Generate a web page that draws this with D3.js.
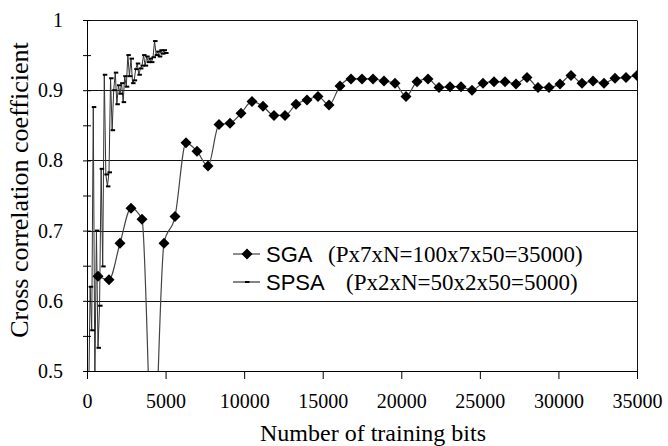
<!DOCTYPE html>
<html>
<head>
<meta charset="utf-8">
<script src="https://cdn.jsdelivr.net/npm/d3@7"></script>
<style>
  body { margin: 0; background: #fff; }
  text { font-family: "Liberation Serif", "Times New Roman", serif; fill: #000; }
</style>
</head>
<body>
<svg id="chart" width="668" height="446"></svg>
<script>
// SGA: one point every 700 training bits
const sgaBits = [700, 1400, 2100, 2800, 3500, 4200, 4900, 5600, 6300, 7000,
    7700, 8400, 9100, 9800, 10500, 11200, 11900, 12600, 13300, 14000,
    14700, 15400, 16100, 16800, 17500, 18200, 18900, 19600, 20300, 21000,
    21700, 22400, 23100, 23800, 24500, 25200, 25900, 26600, 27300, 28000,
    28700, 29400, 30100, 30800, 31500, 32200, 32900, 33600, 34300, 35000];
const sgaValues = [0.635, 0.630, 0.682, 0.732, 0.716, 0.36, 0.682, 0.720, 0.825, 0.813,
    0.792, 0.851, 0.853, 0.867, 0.884, 0.877, 0.864, 0.864, 0.880, 0.886,
    0.891, 0.879, 0.906, 0.916, 0.916, 0.916, 0.913, 0.910, 0.891, 0.912,
    0.916, 0.904, 0.905, 0.905, 0.900, 0.910, 0.912, 0.912, 0.909, 0.918,
    0.904, 0.904, 0.909, 0.921, 0.910, 0.913, 0.910, 0.917, 0.918, 0.921];

// SPSA: one point every 100 training bits
const spsaBits = [100, 200, 300, 400, 500, 600, 700, 800, 900, 1000,
    1100, 1200, 1300, 1400, 1500, 1600, 1700, 1800, 1900, 2000,
    2100, 2200, 2300, 2400, 2500, 2600, 2700, 2800, 2900, 3000,
    3100, 3200, 3300, 3400, 3500, 3600, 3700, 3800, 3900, 4000,
    4100, 4200, 4300, 4400, 4500, 4600, 4700, 4800, 4900, 5000];
const spsaValues = [0.45, 0.62, 0.558, 0.876, 0.48, 0.70, 0.533, 0.593, 0.788, 0.649,
    0.922, 0.78, 0.763, 0.783, 0.917, 0.843, 0.90, 0.925, 0.88, 0.907,
    0.895, 0.91, 0.883, 0.92, 0.905, 0.95, 0.92, 0.945, 0.91, 0.914,
    0.93, 0.938, 0.922, 0.931, 0.935, 0.95, 0.935, 0.948, 0.94, 0.945,
    0.94, 0.947, 0.970, 0.95, 0.955, 0.948, 0.957, 0.952, 0.957, 0.953];

const xTicks = [0, 5000, 10000, 15000, 20000, 25000, 30000, 35000];
const yTicks = [0.5, 0.6, 0.7, 0.8, 0.9, 1];
const yMinorTicks = [0.55, 0.65, 0.75, 0.85, 0.95];
const legendNames = ["SGA", "SPSA"];
const legendNotes = ["(Px7xN=100x7x50=35000)", "(Px2xN=50x2x50=5000)"];

const svg = d3.select("#chart");
const margin = { top: 20, right: 31, bottom: 75, left: 87 };
const width = 668 - margin.left - margin.right;
const height = 446 - margin.top - margin.bottom;

const x = d3.scaleLinear().domain([0, 35000]).range([0, width]);
const y = d3.scaleLinear().domain([0.5, 1]).range([height, 0]);

const g = svg.append("g").attr("transform", `translate(${margin.left},${margin.top})`);

g.append("clipPath").attr("id", "plot-clip")
    .append("rect").attr("width", width).attr("height", height);

// gridlines
g.append("g")
    .selectAll("line")
    .data(yTicks.filter(d => d > 0.5))
    .enter().append("line")
    .attr("x1", 0).attr("x2", width)
    .attr("y1", d => Math.round(y(d)) + 0.5).attr("y2", d => Math.round(y(d)) + 0.5)
    .attr("stroke", "#111").attr("stroke-width", 1);

// right border
g.append("line")
    .attr("x1", width + 0.5).attr("x2", width + 0.5)
    .attr("y1", Math.round(y(1)) + 0.5).attr("y2", height)
    .attr("stroke", "#111");

const plot = g.append("g").attr("clip-path", "url(#plot-clip)");

// SPSA line with dash markers
const spsaData = spsaBits.map((b, i) => ({ bits: b, value: spsaValues[i] }));
plot.append("path")
    .datum(spsaData)
    .attr("fill", "none")
    .attr("stroke", "#333")
    .attr("stroke-width", 1)
    .attr("d", d3.line().x(d => x(d.bits)).y(d => y(d.value)));

plot.selectAll(".spsa-mark")
    .data(spsaData)
    .enter().append("line")
    .attr("class", "spsa-mark")
    .attr("x1", d => x(d.bits) - 1.5).attr("x2", d => x(d.bits) + 3)
    .attr("y1", d => y(d.value)).attr("y2", d => y(d.value))
    .attr("stroke", "#000").attr("stroke-width", 2);

// SGA smoothed line with diamonds
const sgaData = sgaBits.map((b, i) => ({ bits: b, value: sgaValues[i] }));
plot.append("path")
    .datum(sgaData)
    .attr("fill", "none")
    .attr("stroke", "#444")
    .attr("stroke-width", 1.2)
    .attr("d", d3.line().curve(d3.curveMonotoneX).x(d => x(d.bits)).y(d => y(d.value)));

const diamond = r => `M0,${-r}L${r},0L0,${r}L${-r},0Z`;

plot.selectAll(".sga-mark")
    .data(sgaData)
    .enter().append("path")
    .attr("class", "sga-mark")
    .attr("transform", d => `translate(${x(d.bits)},${y(d.value)})`)
    .attr("d", diamond(5.5))
    .attr("fill", "#000");

// axes
const xAxis = g.append("g")
    .attr("transform", `translate(0,${height})`)
    .call(d3.axisBottom(x).tickValues(xTicks).tickSize(8).tickPadding(15).tickSizeOuter(0).tickFormat(d3.format("d")));

const yAxis = g.append("g")
    .call(d3.axisLeft(y).tickValues(yTicks).tickSize(4).tickPadding(20).tickSizeOuter(0)
        .tickFormat(d => d === 1 ? "1" : d3.format(".1f")(d)));

g.append("g")
    .call(d3.axisRight(y).tickValues(yTicks).tickSize(4).tickSizeOuter(0).tickFormat(""))
    .select(".domain").remove();

g.append("g")
    .call(d3.axisLeft(y).tickValues(yMinorTicks).tickSize(4).tickSizeOuter(0).tickFormat(""))
    .select(".domain").remove();
g.append("g")
    .call(d3.axisRight(y).tickValues(yMinorTicks).tickSize(4).tickSizeOuter(0).tickFormat(""))
    .select(".domain").remove();

g.selectAll(".domain, .tick line").attr("stroke", "#000");
xAxis.selectAll("text").attr("font-size", 20).style("font-family", '"Liberation Serif", serif');
yAxis.selectAll("text").attr("font-size", 20).style("font-family", '"Liberation Serif", serif');

// axis titles
svg.append("text")
    .attr("x", 373).attr("y", 441)
    .attr("text-anchor", "middle")
    .attr("font-size", 24)
    .text("Number of training bits");

svg.append("text")
    .attr("transform", "translate(28,190) rotate(-90)")
    .attr("text-anchor", "middle")
    .attr("font-size", 26)
    .text("Cross correlation coefficient");

// legend
const legend = svg.append("g").attr("transform", "translate(233,254)");
const rows = legend.selectAll("g")
    .data(legendNames)
    .enter().append("g")
    .attr("transform", (d, i) => `translate(0,${i * 28})`);

rows.append("line")
    .attr("x1", 0).attr("x2", 27)
    .attr("stroke", (d, i) => i === 0 ? "#444" : "#333")
    .attr("stroke-width", 1.2);

rows.filter((d, i) => i === 0).append("path")
    .attr("transform", "translate(14,0)")
    .attr("d", diamond(5.5))
    .attr("fill", "#000");

rows.filter((d, i) => i === 1).append("line")
    .attr("x1", 12).attr("x2", 16.5)
    .attr("stroke", "#000").attr("stroke-width", 2);

rows.append("text")
    .attr("x", 33).attr("y", 7.5)
    .attr("font-size", 22)
    .style("font-family", '"Liberation Sans", Arial, sans-serif')
    .text(d => d);

rows.append("text")
    .attr("x", (d, i) => i === 0 ? 95 : 113).attr("y", 7.5)
    .attr("font-size", 23)
    .text((d, i) => legendNotes[i]);
</script>
</body>
</html>
